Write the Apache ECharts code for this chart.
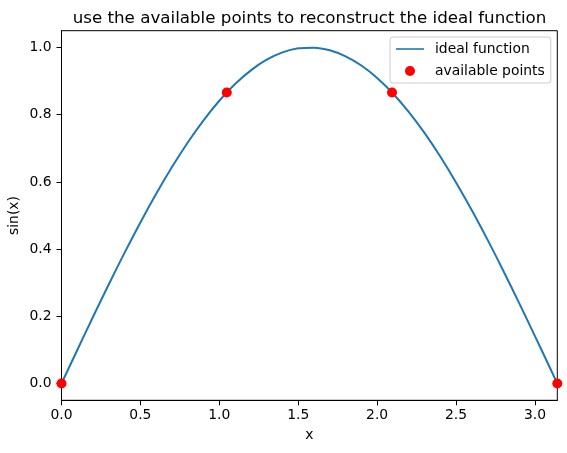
<!DOCTYPE html>
<html><head><meta charset="utf-8">
<script src="https://cdn.jsdelivr.net/npm/echarts@6/dist/echarts.min.js"></script>
<style>html,body{margin:0;padding:0;background:#fff}#c{width:567px;height:453px}</style>
</head><body><div id="c"></div>
<script>
// ideal function samples
const curveX = [0,0.1,0.2,0.3,0.4,0.5,0.6,0.7,0.8,0.9,1.0,1.1,1.2,1.3,1.4,1.5,1.6,1.7,1.8,1.9,2.0,2.1,2.2,2.3,2.4,2.5,2.6,2.7,2.8,2.9,3.0,3.1,3.1416];
const curveY = [0,0.0998,0.1987,0.2955,0.3894,0.4794,0.5646,0.6442,0.7174,0.7833,0.8415,0.8912,0.9320,0.9636,0.9854,0.9975,0.9996,0.9917,0.9738,0.9463,0.9093,0.8632,0.8085,0.7457,0.6755,0.5985,0.5155,0.4274,0.3350,0.2392,0.1411,0.0416,0];
// available points
const pointX = [0, 1.0472, 2.0944, 3.1416];
const pointY = [0, 0.866, 0.866, 0];
// tick labels
const xTicks = [0, 0.5, 1.0, 1.5, 2.0, 2.5, 3.0];
const yTicks = [0, 0.2, 0.4, 0.6, 0.8, 1.0];

const FONT = 'DejaVu Sans';
const chart = echarts.init(document.getElementById('c'), null, {renderer: 'canvas'});
chart.setOption({
  animation: false,
  backgroundColor: '#fff',
  title: {
    text: 'use the available points to reconstruct the ideal function',
    left: 304.5, textAlign: 'center', top: 5,
    textStyle: {fontFamily: FONT, fontSize: 16.7, fontWeight: 'normal', color: '#000'}
  },
  legend: {
    left: 390, top: 37, orient: 'vertical',
    padding: [5, 6, 5, 6], itemGap: 8,
    itemWidth: 28, itemHeight: 10,
    borderColor: '#cccccc', borderWidth: 1, borderRadius: 3,
    backgroundColor: 'rgba(255,255,255,0.8)',
    textStyle: {fontFamily: FONT, fontSize: 13.9, color: '#000', padding: [0, 0, 0, 6]},
    data: [
      {name: 'ideal function', icon: 'path://M0,0L0,0M0,4.2L28,4.2L28,5.8L0,5.8ZM28,10L28,10'},
      {name: 'available points', icon: 'circle'}
    ]
  },
  grid: {left: 61.5, top: 30.7, width: 495.8, height: 369.6, outerBoundsMode: 'none', containLabel: false,
    show: true, borderColor: '#000', borderWidth: 1, backgroundColor: 'transparent'},
  xAxis: {
    type: 'value', min: 0, max: 3.14159,
    name: 'x', nameLocation: 'middle', nameGap: 28, nameMoveOverlap: false,
    nameTextStyle: {fontFamily: FONT, fontSize: 13.9, color: '#000'},
    axisLine: {show: true, onZero: false, lineStyle: {color: '#000', width: 1}},
    axisTick: {show: true, inside: false, length: 5, lineStyle: {color: '#000'}, customValues: xTicks},
    axisLabel: {fontFamily: FONT, fontSize: 13.9, color: '#000', margin: 8, customValues: xTicks,
      formatter: v => v.toFixed(1)},
    splitLine: {show: false}
  },
  yAxis: {
    type: 'value', min: -0.05, max: 1.05,
    name: 'sin(x)', nameLocation: 'middle', nameGap: 40, nameMoveOverlap: false,
    nameTextStyle: {fontFamily: FONT, fontSize: 13.9, color: '#000'},
    axisLine: {show: true, onZero: false, lineStyle: {color: '#000', width: 1}},
    axisTick: {show: true, inside: false, length: 5, lineStyle: {color: '#000'}, customValues: yTicks},
    axisLabel: {fontFamily: FONT, fontSize: 13.9, color: '#000', margin: 10, customValues: yTicks,
      formatter: v => v.toFixed(1)},
    splitLine: {show: false}
  },
  series: [
    {
      name: 'ideal function', type: 'line', symbol: 'none', smooth: 0.3,
      data: curveX.map((x, i) => [x, curveY[i]]),
      lineStyle: {color: '#1f77b4', width: 2},
      itemStyle: {color: '#1f77b4'}, z: 2
    },
    {
      name: 'available points', type: 'scatter', symbol: 'circle', symbolSize: 10,
      data: pointX.map((x, i) => [x, pointY[i]]),
      itemStyle: {color: '#ff0000', opacity: 1}, z: 3
    }
  ]
});
</script></body></html>
